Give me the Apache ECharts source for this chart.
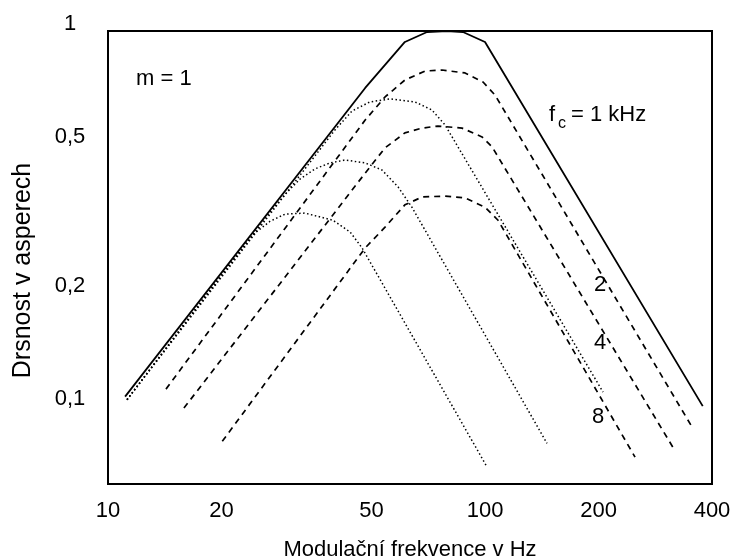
<!DOCTYPE html>
<html>
<head>
<meta charset="utf-8">
<script src="https://cdn.jsdelivr.net/npm/echarts@6/dist/echarts.min.js"></script>
<style>
html,body{margin:0;padding:0;background:#fff;}
#c{width:730px;height:560px;}
</style>
</head>
<body>
<div id="c"></div>
<script>
// Axis ranges and tick labels
var xRange = [10, 400];
var yRange = [0.062, 1];
var xTicks = [10, 20, 50, 100, 200, 400];
var yTicks = [0.1, 0.2, 0.5, 1];

// fc = 1 kHz (solid)
var solidX = [11.1, 48.1, 61.3, 70.2, 79.3, 87.4, 100, 378];
var solidY = [0.106, 0.705, 0.935, 0.994, 1.0, 0.994, 0.935, 0.1];

// fc = 2 kHz (dashed)
var dash2X = [14.25, 48.1, 54.3, 61.3, 69.3, 76.9, 88.5, 98.8, 106.3, 354];
var dash2Y = [0.111, 0.579, 0.667, 0.740, 0.782, 0.787, 0.773, 0.731, 0.675, 0.088];

// fc = 4 kHz (dashed)
var dash4X = [15.9, 48.1, 54.3, 61.3, 68.1, 75.0, 86.9, 98.2, 104.4, 315];
var dash4Y = [0.0988, 0.418, 0.488, 0.535, 0.551, 0.558, 0.551, 0.522, 0.491, 0.0777];

// fc = 8 kHz (dashed)
var dash8X = [20.1, 48.1, 54.3, 61.3, 68.1, 78.3, 88.5, 100, 108.3, 250];
var dash8Y = [0.0806, 0.264, 0.300, 0.344, 0.361, 0.363, 0.359, 0.339, 0.313, 0.0731];

// fc = 500 Hz (dotted)
var dot500X = [11.23, 40.0, 44.4, 49.5, 56.0, 65.2, 72.3, 78.3, 205.6];
var dot500Y = [0.104, 0.545, 0.612, 0.647, 0.659, 0.647, 0.616, 0.562, 0.109];

// fc = 250 Hz (dotted)
var dot250X = [11.23, 26.9, 29.5, 32.3, 35.4, 38.8, 42.5, 48.1, 53.3, 58.8, 64.0, 146];
var dot250Y = [0.104, 0.329, 0.367, 0.403, 0.429, 0.445, 0.453, 0.445, 0.426, 0.384, 0.339, 0.0796];

// fc = 125 Hz (dotted)
var dot125X = [11.23, 20.4, 22.4, 24.5, 26.9, 29.5, 33.3, 39.5, 43.9, 47.2, 100.6];
var dot125Y = [0.104, 0.2305, 0.259, 0.289, 0.311, 0.325, 0.327, 0.313, 0.291, 0.264, 0.0696];

var FONT = 'Liberation Sans, Arial, sans-serif';

function pts(xs, ys) {
  return xs.map(function (x, i) { return [Math.log10(x), Math.log10(ys[i])]; });
}
function fmt(v) {
  var r = Math.round(Math.pow(10, v) * 10) / 10;
  return String(r).replace('.', ',');
}
function line(name, xs, ys, type) {
  return {
    name: name, type: 'line', data: pts(xs, ys), showSymbol: false, symbol: 'none',
    smooth: false, silent: true,
    lineStyle: { color: '#000', width: type === 'solid' ? 1.8 : (type === 'dashed' ? 1.7 : 1.5),
      type: type === 'solid' ? 'solid' : (type === 'dashed' ? [6, 5] : [1.5, 2.5]), cap: 'butt' }
  };
}

var chart = echarts.init(document.getElementById('c'), null, { renderer: 'canvas' });
chart.setOption({
  animation: false,
  backgroundColor: '#fff',
  grid: { left: 108, right: 18, top: 31, bottom: 76, show: true, borderColor: '#000', borderWidth: 2,
    containLabel: false, outerBoundsMode: 'none' },
  xAxis: {
    type: 'value', min: Math.log10(xRange[0]), max: Math.log10(xRange[1]),
    name: 'Modulační frekvence v Hz', nameLocation: 'middle', nameGap: 55, nameMoveOverlap: false,
    nameTextStyle: { fontSize: 22, color: '#000', fontFamily: FONT },
    axisLine: { show: false }, axisTick: { show: false }, splitLine: { show: false },
    axisLabel: { customValues: xTicks.map(function (v) { return Math.log10(v); }),
      formatter: fmt, fontSize: 22, color: '#000', fontFamily: FONT, margin: 16,
      showMinLabel: true, showMaxLabel: true, hideOverlap: false }
  },
  yAxis: {
    type: 'value', min: Math.log10(yRange[0]), max: Math.log10(yRange[1]),
    name: 'Drsnost v asperech', nameLocation: 'middle', nameGap: 72, nameMoveOverlap: false,
    nameTextStyle: { fontSize: 25, color: '#000', fontFamily: FONT, padding: [0, 26, 0, 0] },
    axisLine: { show: false }, axisTick: { show: false }, splitLine: { show: false },
    axisLabel: { customValues: yTicks.map(function (v) { return Math.log10(v); }),
      formatter: fmt, fontSize: 22, lineHeight: 14, color: '#000', fontFamily: FONT, margin: 38, align: 'center',
      verticalAlign: 'bottom', showMinLabel: true, showMaxLabel: true, hideOverlap: false }
  },
  series: [
    line('1 kHz', solidX, solidY, 'solid'),
    line('2 kHz', dash2X, dash2Y, 'dashed'),
    line('4 kHz', dash4X, dash4Y, 'dashed'),
    line('8 kHz', dash8X, dash8Y, 'dashed'),
    line('500 Hz', dot500X, dot500Y, 'dotted'),
    line('250 Hz', dot250X, dot250Y, 'dotted'),
    line('125 Hz', dot125X, dot125Y, 'dotted')
  ],
  graphic: [
    { type: 'text', x: 136, y: 79, style: { text: 'm = 1', font: '22px ' + FONT, fill: '#000', verticalAlign: 'middle', align: 'left' } },
    { type: 'text', x: 549, y: 115, style: { text: 'f', font: '22px ' + FONT, fill: '#000', verticalAlign: 'middle', align: 'left' } },
    { type: 'text', x: 558, y: 124, style: { text: 'c', font: '16px ' + FONT, fill: '#000', verticalAlign: 'middle', align: 'left' } },
    { type: 'text', x: 571, y: 115, style: { text: '= 1 kHz', font: '22px ' + FONT, fill: '#000', verticalAlign: 'middle', align: 'left' } },
    { type: 'text', x: 600, y: 285, style: { text: '2', font: '22px ' + FONT, fill: '#000', verticalAlign: 'middle', align: 'center' } },
    { type: 'text', x: 600, y: 343, style: { text: '4', font: '22px ' + FONT, fill: '#000', verticalAlign: 'middle', align: 'center' } },
    { type: 'text', x: 598, y: 417, style: { text: '8', font: '22px ' + FONT, fill: '#000', verticalAlign: 'middle', align: 'center' } }
  ]
});
</script>
</body>
</html>
